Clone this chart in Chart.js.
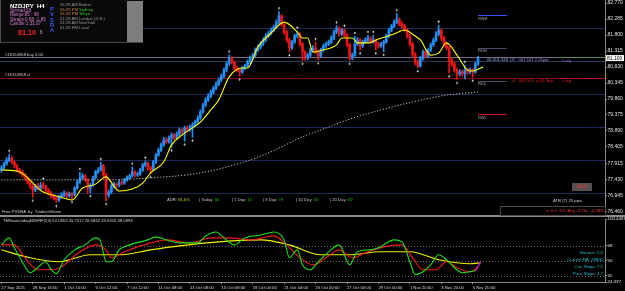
<!DOCTYPE html>
<html><head><meta charset="utf-8">
<script src="https://cdn.jsdelivr.net/npm/chart.js@4/dist/chart.umd.min.js"></script>
<style>
html,body{margin:0;padding:0;background:#000;width:625px;height:291px;overflow:hidden;}
#wrap{position:relative;width:625px;height:291px;font-family:"Liberation Sans",Arial,sans-serif;}
canvas{position:absolute;left:0;}
.t{position:absolute;white-space:pre;line-height:1;font-family:"Liberation Sans",Arial,sans-serif;}
</style></head><body><div id="wrap">
<canvas id="main" width="625" height="214" style="top:0"></canvas>
<div style="position:absolute;left:0;top:215px;width:625px;height:2px;background:#8a8a8a"></div>
<canvas id="sub" width="625" height="74" style="top:217px"></canvas>

<div style="position:absolute;left:0;top:0;width:142px;height:42px;background:#0a0a0a;border-bottom:1px solid #4a4a4a;border-left:1px solid #4a4a4a;"></div>
<div style="position:absolute;left:127px;top:1px;width:16px;height:41px;background:#7d7d7d;"></div>
<div class="t" style="left:10px;top:3px;font-size:6px;font-weight:bold;color:#fff">NZDJPY  H4</div>
<div class="t" style="left:10px;top:8.5px;font-size:4.6px;color:#d27fd2">Spread:28</div>
<div class="t" style="left:10px;top:13px;font-size:4.6px;color:#d27fd2">Range:95 : 98</div>
<div class="t" style="left:10px;top:17.5px;font-size:4.6px;color:#d27fd2">Swaps:0.88 -1.85</div>
<div class="t" style="left:10px;top:22px;font-size:4.6px;color:#d27fd2">Candle:1:31:07</div>
<div class="t" style="left:18px;top:29px;font-size:7.2px;font-weight:bold;color:#ff2020">81.10</div>
<div class="t" style="left:40px;top:31px;font-size:4.5px;color:#b0b0b0">8</div>
<div class="t" style="left:50px;top:7px;font-size:5.6px;font-weight:bold;color:#3a5cff;line-height:5.3px">P<br>V<br>S<br>R<br>A</div>
<div class="t" style="left:60px;top:3.2px;font-size:4.2px;color:#9a9a9a">05:28 AM Broker</div>
<div class="t" style="left:60px;top:7.8px;font-size:4.2px;color:#c8844a">05:28 PM <span style="color:#2ec42e">Sydney</span></div>
<div class="t" style="left:60px;top:12.3px;font-size:4.2px;color:#c8844a">05:28 PM <span style="color:#2ec42e">Tokyo</span></div>
<div class="t" style="left:60px;top:16.8px;font-size:4.2px;color:#9a9a9a">01:28 AM London (D.S.)</div>
<div class="t" style="left:60px;top:21.4px;font-size:4.2px;color:#9a9a9a">01:28 AM NewYork</div>
<div class="t" style="left:60px;top:25.9px;font-size:4.2px;color:#9a9a9a">01:28 PM Local</div>

<div class="t lvl" data-level="buy" data-dy="-4.5" style="left:5px;font-size:4.2px;color:#c8c8c8">#36154968 buy 0.05</div>
<div class="t lvl" data-level="sl" data-dy="-4.5" style="left:5px;font-size:4.2px;color:#c8c8c8">#36154968 sl</div>
<div class="t lvl" data-level="buy" data-dy="1" style="left:487px;font-size:4.2px;color:#a3a3ef">05 001.346  07   <span style="color:#a884cc">001.547 2.05pip</span></div>
<div class="t lvl" data-level="buy" data-dy="1.5" style="left:562px;font-size:4.2px;color:#a050d8">Long</div>
<div class="t lvl" data-level="sl" data-dy="1.5" style="left:512px;font-size:4.2px;color:#d42020">sl  -060.505  p-64.9pip</div>
<div class="t lvl" data-level="sl" data-dy="1.5" style="left:562px;font-size:4.2px;color:#d42020">Long</div>
<div class="t lvl" data-level="rwh" data-dy="2" style="left:478px;font-size:4px;color:#a8a8a8">RWH</div>
<div class="t lvl" data-level="rdh" data-dy="1.5" style="left:478px;font-size:4px;color:#a8a8a8">RDH</div>
<div class="t lvl" data-level="rdl" data-dy="1.5" style="left:478px;font-size:4px;color:#a8a8a8">RDL</div>
<div class="t lvl" data-level="rwl" data-dy="1.5" style="left:478px;font-size:4px;color:#a8a8a8">RWL</div>

<div class="t" style="left:167px;top:197.8px;font-size:4.2px;color:#c8c8c8">ADR: <span style="color:#d4d400">81.6%</span></div>
<div class="t" style="left:199px;top:197.8px;font-size:4.2px;color:#c8c8c8">| Today: <span style="color:#00c800">56</span></div>
<div class="t" style="left:232px;top:197.8px;font-size:4.2px;color:#c8c8c8">| 1 Day: <span style="color:#00c800">16</span></div>
<div class="t" style="left:263px;top:197.8px;font-size:4.2px;color:#c8c8c8">| 5 Day: <span style="color:#00c800">79</span></div>
<div class="t" style="left:296px;top:197.8px;font-size:4.2px;color:#c8c8c8">| 10 Day: <span style="color:#00c800">60</span></div>
<div class="t" style="left:330px;top:197.8px;font-size:4.2px;color:#c8c8c8">| 20 Day: <span style="color:#00c800">69</span></div>

<div style="position:absolute;left:572px;top:183px;width:20px;height:8px;background:#575050"></div>
<div class="t" style="left:572px;top:185px;width:20px;text-align:center;font-size:4.5px;color:#ff3434">Devil</div>
<div class="t" style="left:553px;top:198.5px;font-size:4.2px;color:#d0d0d0">ATR (7) 25 pips</div>
<div style="position:absolute;left:500px;top:206px;width:104px;height:8px;border:1px solid #4a4a4a"></div>
<div class="t" style="left:500px;top:209px;width:104px;text-align:right;font-size:4.3px;color:#ff3030">tc 0 t/ -3.5  Avg -3.73c  -0.58%</div>
<div class="t" style="left:2px;top:209.5px;font-size:4.2px;color:#d0d0d0">Free PVSRA  by  TradersShone</div>
<div class="t" style="left:3px;top:218.5px;font-size:4.2px;color:#d0d0d0">TMSwatchdogNZERF(24) 62.0953 45.7517 28.5862 49.0615 48.0993</div>
<div class="t" style="left:500px;width:103px;text-align:right;top:251px;font-size:4.3px;color:#1fc0c8">Bounce: 2.0</div>
<div class="t" style="left:500px;width:103px;text-align:right;top:258px;font-size:4.3px;color:#1fc0c8">Current HA: 28800</div>
<div class="t" style="left:500px;width:103px;text-align:right;top:265px;font-size:4.3px;color:#1fc0c8">Cur. Slope: 7.5</div>
<div class="t" style="left:500px;width:103px;text-align:right;top:272px;font-size:4.3px;color:#1fc0c8">Prev. Slope: 4.7</div>
</div>
<script>
// ---------------- DATA ----------------
const firstOpen = 77.70;
const closes = [77.77,77.89,78.01,78.07,77.95,77.83,77.71,77.65,77.56,77.47,
77.34,77.22,77.10,77.22,77.16,77.25,77.19,77.10,77.01,76.92,
76.86,76.80,76.89,76.95,77.01,76.92,76.98,76.95,77.16,77.34,
77.47,77.53,77.41,77.16,77.25,77.47,77.65,77.71,77.83,77.56,
76.95,77.04,77.22,77.28,77.25,77.34,77.31,77.41,77.47,77.53,
77.65,77.56,77.59,77.71,77.86,77.92,77.77,77.71,77.95,78.16,
78.31,78.47,78.62,78.56,78.68,78.77,78.68,78.80,78.92,78.86,
78.98,78.92,79.01,79.07,79.16,79.28,79.47,79.68,79.83,79.95,
80.07,80.19,80.31,80.44,80.56,80.74,80.92,81.10,80.98,80.80,
80.74,80.68,80.80,80.86,80.98,81.10,81.19,81.35,81.44,81.53,
81.65,81.77,81.86,81.95,82.04,82.19,82.38,82.13,81.89,81.65,
81.41,81.59,81.77,81.83,81.53,81.29,81.10,81.19,81.35,81.41,
81.29,81.16,81.35,81.47,81.53,81.59,81.71,81.89,82.01,81.83,
81.95,81.80,81.50,81.10,81.19,81.53,81.65,81.47,81.59,81.65,
81.71,81.59,81.65,81.53,81.47,81.53,81.59,81.77,81.95,82.07,
82.19,82.26,82.13,82.07,81.95,81.77,81.53,81.22,80.98,80.86,
81.10,81.29,81.16,81.35,81.50,81.65,81.83,81.95,81.71,81.53,
81.41,81.04,80.92,80.74,80.62,80.68,80.62,80.74,80.68,80.74,
80.68,80.92,81.10];
const highs = [77.84,77.95,78.08,78.18,78.12,77.99,77.88,77.76,77.70,77.61,
77.52,77.40,77.27,77.28,77.30,77.33,77.34,77.24,77.15,77.06,
76.97,76.90,76.95,77.02,77.08,77.05,77.04,77.02,77.21,77.40,
77.64,77.60,77.57,77.45,77.30,77.52,77.70,77.78,77.94,77.88,
77.60,77.10,77.27,77.34,77.32,77.40,77.38,77.46,77.53,77.58,
77.80,77.69,77.64,77.76,77.91,77.98,77.95,77.82,78.00,78.21,
78.37,78.53,78.70,78.68,78.74,78.83,78.82,78.86,78.98,78.96,
79.04,79.05,79.08,79.14,79.22,79.35,79.53,79.74,79.90,80.02,
80.14,80.25,80.38,80.50,80.62,80.80,80.99,81.20,81.14,81.02,
80.86,80.79,80.85,80.92,81.04,81.16,81.25,81.41,81.50,81.60,
81.72,81.84,81.92,82.02,82.10,82.26,82.51,82.42,82.18,81.94,
81.70,81.64,81.83,81.92,81.87,81.58,81.33,81.25,81.40,81.48,
81.58,81.34,81.40,81.53,81.59,81.65,81.78,81.95,82.08,82.05,
82.00,81.98,81.84,81.55,81.26,81.76,81.72,81.70,81.65,81.72,
81.79,81.75,81.79,81.68,81.58,81.58,81.64,81.83,82.01,82.13,
82.26,82.45,82.32,82.20,82.12,82.00,81.82,81.58,81.27,81.04,
81.15,81.34,81.36,81.40,81.56,81.71,81.90,82.10,81.99,81.76,
81.58,81.46,81.10,80.98,80.80,80.75,80.74,80.88,80.80,80.80,
80.79,80.98,81.16];
const lows = [77.64,77.72,77.85,77.96,77.90,77.78,77.66,77.58,77.50,77.41,
77.28,77.15,76.88,77.05,77.10,77.12,77.14,77.04,76.95,76.86,
76.80,76.72,76.75,76.85,76.91,76.87,76.88,76.84,76.92,77.12,
77.30,77.42,77.36,77.00,77.02,77.22,77.44,77.60,77.68,77.50,
76.78,76.88,76.99,77.16,77.18,77.20,77.26,77.27,77.36,77.42,
77.49,77.50,77.51,77.54,77.66,77.80,77.70,77.60,77.68,77.90,
78.12,78.26,78.42,78.50,78.52,78.40,78.62,78.64,78.75,78.80,
78.58,78.86,78.88,78.70,79.02,79.12,79.24,79.42,79.62,79.78,
79.90,80.02,80.14,80.26,80.38,80.50,80.68,80.88,80.92,80.74,
80.68,80.55,80.63,80.75,80.82,80.93,81.05,81.14,81.30,81.38,
81.48,81.60,81.72,81.80,81.90,81.99,82.14,82.06,81.82,81.58,
81.29,81.36,81.54,81.72,81.46,81.03,81.04,81.05,81.14,81.30,
81.24,81.04,81.12,81.30,81.42,81.48,81.54,81.66,81.84,81.77,
81.78,81.74,81.44,81.03,81.05,81.15,81.48,81.35,81.42,81.54,
81.60,81.53,81.55,81.35,81.40,81.42,81.30,81.55,81.72,81.90,
82.02,82.14,82.07,82.00,81.89,81.70,81.46,81.15,80.90,80.80,
80.83,81.04,81.10,81.12,81.30,81.45,81.60,81.78,81.64,81.46,
81.35,80.65,80.85,80.68,80.45,80.56,80.55,80.47,80.60,80.62,
80.52,80.64,80.88];
const opens = [firstOpen].concat(closes.slice(0, -1));

// fast MA (yellow) read at bar index
const maFastIdx = [0,7,14,16,21,25,27,31,36,39,40,43,45,50,54,57,62,65,69,76,80,83,87,92,94,98,103,108,113,115,117,119,123,128,130,134,136,140,144,150,154,158,160,164,167,170,174,178,180,183,184];
const maFastVal = [77.71,77.65,77.16,77.04,76.92,76.83,76.80,77.16,77.28,77.47,77.50,77.22,77.07,77.13,77.31,77.62,77.95,78.47,78.77,79.16,79.53,79.83,80.53,80.80,80.80,81.44,81.86,82.19,81.89,81.71,81.71,81.28,81.35,81.50,81.71,81.71,81.56,81.56,81.68,81.83,81.95,81.77,81.65,81.19,81.25,81.56,81.19,80.74,80.71,80.80,80.83];
// slow MA (dotted)
const maSlowIdx = [0,38,57,76,95,106,114,126,133,145,157,170,182];
const maSlowVal = [77.41,77.41,77.47,77.62,78.01,78.37,78.68,79.04,79.25,79.53,79.77,79.98,80.07];

const fractalUp = [3,16,30,38,50,55,87,106,113,120,128,131,135,140,142,151,167,177];
const fractalDown = [12,21,27,34,40,57,65,70,73,91,110,115,121,133,137,143,146,159,171,174,180];

const roundLevels = [77, 78, 79, 80, 81, 82];
const orderLevels = {buy: 81.13, sl: 80.50};
const pivotLevels = {rwh: 82.41, rdh: 81.41, rdl: 80.41, rwl: 79.40};

const priceTicks = [82.770, 82.285, 81.800, 81.315, 80.830, 80.345, 79.860, 79.375, 78.890, 78.405, 77.915, 77.430, 76.945, 76.460];
const timeTickIndex = [0,12,24,36,48,60,72,84,96,108,120,132,144,156,168,180];
const timeLabels = ["27 Sep 2021","28 Sep 16:00","1 Oct 16:00","5 Oct 12:00","7 Oct 12:00","11 Oct 08:00","13 Oct 08:00","15 Oct 08:00","19 Oct 04:00","21 Oct 04:00","25 Oct 00:00","27 Oct 00:00","29 Oct 00:00","1 Nov 20:00","3 Nov 20:00","5 Nov 20:00"];

// oscillator (sub window)
const oscGreenIdx = [0,3,5,8,11,13,17,19,21,24,28,32,36,38,40,42,45,49,53,56,59,63,68,75,78,82,85,89,93,99,104,108,110,113,115,118,121,125,129,133,136,141,144,150,153,156,158,161,164,167,170,173,176,179,181];
const oscGreenVal = [69.2,77.6,65.6,48.8,35.6,39.2,48.8,39.2,34.4,51.2,63.2,69.2,77.6,72.8,48.8,48.8,63.2,69.2,72.8,75.2,78.8,75.2,71.6,71.6,80.0,84.8,77.6,69.2,77.6,81.2,84.8,75.2,53.6,63.2,45.2,39.2,48.8,60.8,69.2,45.2,60.8,63.2,65.6,75.2,72.8,48.8,33.2,36.8,45.2,57.2,51.2,41.6,35.6,36.8,38.0];
const oscMagentaIdx = [181,182,183];
const oscMagentaVal = [38.0,43.0,49.0];
const oscRedIdx = [0,5,9,14,20,24,30,36,40,42,47,57,63,72,80,87,95,104,109,114,119,124,129,134,139,146,153,157,161,166,170,174,179,182];
const oscRedVal = [69.2,69.2,53.6,39.2,39.2,45.2,60.8,69.2,63.2,53.6,60.8,71.6,75.2,71.6,77.6,77.6,75.2,80.0,69.2,53.6,45.2,53.6,63.2,53.6,59.6,66.8,69.2,53.6,39.2,39.2,48.8,41.6,36.8,41.6];
const oscYellowIdx = [0,11,22,34,45,57,68,83,99,110,122,133,145,156,167,179,183];
const oscYellowVal = [63.2,53.6,48.8,57.2,57.2,63.2,68.0,72.8,75.2,69.2,57.2,57.2,60.8,60.8,51.2,46.4,47.6];
const oscLevels = [68, 50, 32];
const subTicks = [100.4467, 68, 50, 32, 24.337];
const subTickLabels = ["100.4467", "68", "50", "32", "24.337"];

// ---------------- RANGES / STYLE ----------------
const yMax = 82.861, yMin = 76.374;
const xMin = -0.5, xMax = 230.5;
const UP = '#2290f5', DN = '#f01414';
const axisFont = {family: 'Liberation Sans', size: 5};
const pts = (idx, val) => idx.map((x, k) => ({x, y: val[k]}));
const candleColors = closes.map((c, i) => c >= opens[i] ? UP : DN);

const mainOverlay = {
  id: 'mainOverlay',
  beforeDatasetsDraw(chart) {
    const {ctx, chartArea: a, scales: {x, y}} = chart;
    ctx.save();
    ctx.beginPath(); ctx.rect(a.left, a.top, a.right - a.left, a.bottom - a.top); ctx.clip();
    const hline = (v, color, dash, x0, x1) => {
      const py = Math.round(y.getPixelForValue(v)) + 0.5;
      ctx.strokeStyle = color; ctx.lineWidth = 1; ctx.setLineDash(dash || []);
      ctx.beginPath(); ctx.moveTo(x0, py); ctx.lineTo(x1, py); ctx.stroke();
    };
    roundLevels.forEach(v => hline(v, v === 81 ? '#1f3d5a' : '#1d2a5c', null, a.left, a.right));
    hline(orderLevels.buy, '#786f92', null, a.left, a.right);
    hline(orderLevels.sl, '#8a0d0d', null, a.left, a.right);
    hline(orderLevels.buy, '#3aa03a', [2, 1.5], x.getPixelForValue(213), a.right);
    hline(orderLevels.sl, '#e01818', [2, 1.5], x.getPixelForValue(213), a.right);
    const px0 = x.getPixelForValue(182), px1 = x.getPixelForValue(193);
    hline(pivotLevels.rwh, '#3a55ff', null, px0, px1);
    hline(pivotLevels.rdh, '#4a4a66', null, px0, px1);
    hline(pivotLevels.rdl, '#4a4a66', null, px0, px1);
    hline(pivotLevels.rwl, '#d01010', null, px0, px1);
    ctx.restore();
  },
  afterDatasetsDraw(chart) {
    const {ctx, scales: {x, y}} = chart;
    ctx.save();
    ctx.fillStyle = '#d8d8d8';
    fractalUp.forEach(i => {
      const px = x.getPixelForValue(i), py = y.getPixelForValue(highs[i]) - 2;
      ctx.beginPath(); ctx.moveTo(px, py - 2.8); ctx.lineTo(px - 1.3, py - 1.1); ctx.lineTo(px + 1.3, py - 1.1); ctx.closePath(); ctx.fill();
      ctx.fillRect(px - 0.4, py - 1.2, 0.8, 1.2);
    });
    fractalDown.forEach(i => {
      const px = x.getPixelForValue(i), py = y.getPixelForValue(lows[i]) + 2;
      ctx.beginPath(); ctx.moveTo(px, py + 2.8); ctx.lineTo(px - 1.3, py + 1.1); ctx.lineTo(px + 1.3, py + 1.1); ctx.closePath(); ctx.fill();
      ctx.fillRect(px - 0.4, py, 0.8, 1.2);
    });
    ctx.restore();
  },
  afterDraw(chart) {
    const {ctx, chartArea: a, scales: {y}} = chart;
    const last = closes[closes.length - 1];
    const py = y.getPixelForValue(last);
    ctx.save();
    ctx.fillStyle = '#ffffff'; ctx.fillRect(a.right + 1, py - 3, 18, 6);
    ctx.fillStyle = '#000000'; ctx.font = '5px "Liberation Sans"'; ctx.textBaseline = 'middle';
    ctx.fillText(last.toFixed(3), a.right + 2, py + 0.3);
    ctx.restore();
  }
};

const mainChart = new Chart(document.getElementById('main'), {
  type: 'bar',
  data: {datasets: [
    {type: 'line', data: pts(maFastIdx, maFastVal), borderColor: '#ffff00', borderWidth: 1.1, pointRadius: 0, cubicInterpolationMode: 'monotone', order: 0},
    {type: 'line', data: pts(maSlowIdx, maSlowVal), borderColor: '#c4c4c4', borderWidth: 1, borderDash: [1.2, 1.8], pointRadius: 0, cubicInterpolationMode: 'monotone', order: 1},
    {type: 'bar', data: closes.map((c, i) => ({x: i, y: [opens[i], c]})), backgroundColor: candleColors, barThickness: 2, grouped: false, minBarLength: 1, order: 2},
    {type: 'bar', data: closes.map((c, i) => ({x: i, y: [lows[i], highs[i]]})), backgroundColor: candleColors, barThickness: 1, grouped: false, order: 3}
  ]},
  options: {
    responsive: false, animation: false, devicePixelRatio: 1,
    layout: {padding: 0},
    plugins: {legend: {display: false}, tooltip: {enabled: false}},
    scales: {
      x: {type: 'linear', min: xMin, max: xMax, display: false, offset: false},
      y: {type: 'linear', position: 'right', min: yMin, max: yMax,
        afterBuildTicks: s => { s.ticks = priceTicks.map(v => ({value: v})); },
        afterFit: s => { s.width = 20; s.paddingTop = 0; s.paddingBottom = 0; },
        ticks: {color: '#e2e2e2', font: axisFont, padding: 0.5, autoSkip: false, callback: v => v.toFixed(3)},
        grid: {drawOnChartArea: false, color: '#9a9a9a', tickLength: 2},
        border: {display: true, color: '#8c8c8c'}}
    }
  },
  plugins: [mainOverlay]
});

const subOverlay = {
  id: 'subOverlay',
  beforeDatasetsDraw(chart) {
    const {ctx, chartArea: a, scales: {y}} = chart;
    ctx.save();
    ctx.strokeStyle = '#6c6c6c'; ctx.lineWidth = 1; ctx.setLineDash([1, 2]);
    oscLevels.forEach(v => {
      const py = Math.round(y.getPixelForValue(v)) + 0.5;
      ctx.beginPath(); ctx.moveTo(a.left, py); ctx.lineTo(a.right, py); ctx.stroke();
    });
    ctx.restore();
  }
};

new Chart(document.getElementById('sub'), {
  type: 'line',
  data: {datasets: [
    {data: pts(oscMagentaIdx, oscMagentaVal), borderColor: '#ff20ff'},
    {data: pts(oscGreenIdx, oscGreenVal), borderColor: '#1ee01e'},
    {data: pts(oscRedIdx, oscRedVal), borderColor: '#f01a1a'},
    {data: pts(oscYellowIdx, oscYellowVal), borderColor: '#f0f000'}
  ]},
  options: {
    responsive: false, animation: false, devicePixelRatio: 1,
    layout: {padding: {top: 2, left: 0, right: 0, bottom: 0}},
    plugins: {legend: {display: false}, tooltip: {enabled: false}},
    elements: {point: {radius: 0}, line: {borderWidth: 1.1, cubicInterpolationMode: 'monotone'}},
    scales: {
      x: {type: 'linear', min: xMin, max: xMax, offset: false,
        afterBuildTicks: s => { s.ticks = timeTickIndex.map(v => ({value: v})); },
        afterFit: s => { s.height = 9; s.paddingLeft = 0; s.paddingRight = 0; },
        ticks: {align: 'start', maxRotation: 0, autoSkip: false, color: '#d8d8d8', font: {family: 'Liberation Sans', size: 4.2}, padding: 1, callback: (v, i) => timeLabels[i]},
        grid: {drawOnChartArea: false, color: '#909090', tickLength: 2},
        border: {display: true, color: '#8c8c8c'}},
      y: {type: 'linear', position: 'right', min: 24.337, max: 100.4467,
        afterBuildTicks: s => { s.ticks = subTicks.map(v => ({value: v})); },
        afterFit: s => { s.width = 20; s.paddingTop = 0; s.paddingBottom = 0; },
        ticks: {color: '#e2e2e2', font: {family: 'Liberation Sans', size: 4.4}, padding: 0.5, autoSkip: false, callback: (v, i) => subTickLabels[i]},
        grid: {drawOnChartArea: false, color: '#9a9a9a', tickLength: 2},
        border: {display: true, color: '#8c8c8c'}}
    }
  },
  plugins: [subOverlay]
});

// place level-tied labels using the main price scale
const allLevels = Object.assign({}, orderLevels, pivotLevels);
document.querySelectorAll('.lvl').forEach(el => {
  const v = allLevels[el.dataset.level];
  const py = mainChart.scales.y.getPixelForValue(v);
  el.style.top = (py + parseFloat(el.dataset.dy)) + 'px';
});
</script>
</body></html>
